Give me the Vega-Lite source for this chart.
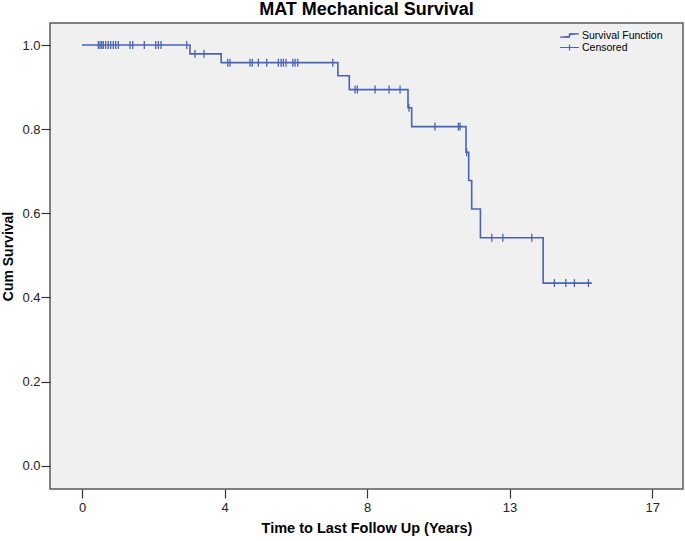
{
  "$schema": "https://vega.github.io/schema/vega-lite/v6.json",
  "width": 633,
  "height": 466,
  "autosize": {"type": "none"},
  "padding": {"left": 50, "top": 23, "right": 2, "bottom": 52},
  "background": "white",
  "title": {"text": "MAT Mechanical Survival", "font": "Liberation Sans", "fontSize": 18, "fontWeight": "bold", "color": "#000000", "offset": 4, "anchor": "middle"},
  "config": {
    "view": {"fill": "#f0f0f0", "stroke": "#5a5a5a", "strokeWidth": 1.5},
    "axis": {
      "domain": false,
      "grid": false,
      "tickSize": 9,
      "tickColor": "#333333",
      "tickWidth": 1.2,
      "labelFont": "Liberation Sans",
      "labelFontSize": 13,
      "labelColor": "#222222",
      "titleFont": "Liberation Sans",
      "titleFontSize": 14.5,
      "titleFontWeight": "bold",
      "titleColor": "#000000"
    }
  },
  "datasets": {
    "curve": [
      {"t": 0, "s": 1.0, "series": "Survival Function"},
      {"t": 3.22, "s": 0.979, "series": "Survival Function"},
      {"t": 4.15, "s": 0.958, "series": "Survival Function"},
      {"t": 7.63, "s": 0.927, "series": "Survival Function"},
      {"t": 7.97, "s": 0.894, "series": "Survival Function"},
      {"t": 9.72, "s": 0.851, "series": "Survival Function"},
      {"t": 9.83, "s": 0.806, "series": "Survival Function"},
      {"t": 11.45, "s": 0.745, "series": "Survival Function"},
      {"t": 11.53, "s": 0.678, "series": "Survival Function"},
      {"t": 11.62, "s": 0.61, "series": "Survival Function"},
      {"t": 11.88, "s": 0.542, "series": "Survival Function"},
      {"t": 13.75, "s": 0.434, "series": "Survival Function"},
      {"t": 15.2, "s": 0.434, "series": "Survival Function"}
    ],
    "censored": [
      {"t": 0.486, "s": 1.0, "series": "Censored"},
      {"t": 0.537, "s": 1.0, "series": "Censored"},
      {"t": 0.588, "s": 1.0, "series": "Censored"},
      {"t": 0.635, "s": 1.0, "series": "Censored"},
      {"t": 0.707, "s": 1.0, "series": "Censored"},
      {"t": 0.784, "s": 1.0, "series": "Censored"},
      {"t": 0.856, "s": 1.0, "series": "Censored"},
      {"t": 0.933, "s": 1.0, "series": "Censored"},
      {"t": 1.005, "s": 1.0, "series": "Censored"},
      {"t": 1.083, "s": 1.0, "series": "Censored"},
      {"t": 1.432, "s": 1.0, "series": "Censored"},
      {"t": 1.512, "s": 1.0, "series": "Censored"},
      {"t": 1.858, "s": 1.0, "series": "Censored"},
      {"t": 2.198, "s": 1.0, "series": "Censored"},
      {"t": 2.276, "s": 1.0, "series": "Censored"},
      {"t": 2.356, "s": 1.0, "series": "Censored"},
      {"t": 3.123, "s": 1.0, "series": "Censored"},
      {"t": 3.37, "s": 0.979, "series": "Censored"},
      {"t": 3.639, "s": 0.979, "series": "Censored"},
      {"t": 4.345, "s": 0.958, "series": "Censored"},
      {"t": 4.414, "s": 0.958, "series": "Censored"},
      {"t": 5.01, "s": 0.958, "series": "Censored"},
      {"t": 5.079, "s": 0.958, "series": "Censored"},
      {"t": 5.258, "s": 0.958, "series": "Censored"},
      {"t": 5.508, "s": 0.958, "series": "Censored"},
      {"t": 5.855, "s": 0.958, "series": "Censored"},
      {"t": 5.935, "s": 0.958, "series": "Censored"},
      {"t": 6.004, "s": 0.958, "series": "Censored"},
      {"t": 6.084, "s": 0.958, "series": "Censored"},
      {"t": 6.284, "s": 0.958, "series": "Censored"},
      {"t": 6.352, "s": 0.958, "series": "Censored"},
      {"t": 6.433, "s": 0.958, "series": "Censored"},
      {"t": 7.477, "s": 0.958, "series": "Censored"},
      {"t": 8.142, "s": 0.894, "series": "Censored"},
      {"t": 8.21, "s": 0.894, "series": "Censored"},
      {"t": 8.738, "s": 0.894, "series": "Censored"},
      {"t": 9.156, "s": 0.894, "series": "Censored"},
      {"t": 9.484, "s": 0.894, "series": "Censored"},
      {"t": 9.75, "s": 0.851, "series": "Censored"},
      {"t": 10.525, "s": 0.806, "series": "Censored"},
      {"t": 11.223, "s": 0.806, "series": "Censored"},
      {"t": 11.273, "s": 0.806, "series": "Censored"},
      {"t": 11.47, "s": 0.745, "series": "Censored"},
      {"t": 12.219, "s": 0.542, "series": "Censored"},
      {"t": 12.547, "s": 0.542, "series": "Censored"},
      {"t": 13.412, "s": 0.542, "series": "Censored"},
      {"t": 14.086, "s": 0.434, "series": "Censored"},
      {"t": 14.426, "s": 0.434, "series": "Censored"},
      {"t": 14.682, "s": 0.434, "series": "Censored"},
      {"t": 15.1, "s": 0.434, "series": "Censored"}
    ]
  },
  "encoding": {
    "x": {
      "field": "t",
      "type": "quantitative",
      "scale": {"domain": [-0.954, 17.92], "nice": false, "zero": false},
      "axis": {
        "title": "Time to Last Follow Up (Years)",
        "values": [0, 4.25, 8.5, 12.75, 17],
        "labelExpr": "datum.value == 8.5 ? '8' : format(datum.value, '.0f')",
        "labelPadding": 3,
        "titlePadding": 7
      }
    },
    "y": {
      "field": "s",
      "type": "quantitative",
      "scale": {"domain": [-0.0554, 1.0523], "nice": false, "zero": false},
      "axis": {
        "title": "Cum Survival",
        "titleFontSize": 14,
        "values": [0, 0.2, 0.4, 0.6, 0.8, 1.0],
        "format": ".1f",
        "labelPadding": 1,
        "titlePadding": 6
      }
    },
    "color": {
      "field": "series",
      "type": "nominal",
      "scale": {"domain": ["Survival Function", "Censored"], "range": ["#4a62b4", "#4a62b4"]},
      "legend": {
        "title": null,
        "orient": "none",
        "legendX": 513,
        "legendY": 6,
        "labelFont": "Liberation Sans",
        "labelFontSize": 10.5,
        "labelColor": "#000000",
        "symbolSize": 121,
        "rowPadding": 0,
        "labelOffset": 6,
        "padding": 0,
        "encode": {
          "symbols": {
            "update": {
              "shape": {"signal": "datum.value == 'Censored' ? 'M-1.7,0H1.7M0,-0.55V0.55' : 'M-1.7,0.3H0V-0.3H1.7'"},
              "fill": {"value": "transparent"},
              "stroke": {"value": "#4a62b4"},
              "strokeWidth": {"value": 1.2},
              "opacity": {"value": 1}
            }
          }
        }
      }
    }
  },
  "layer": [
    {
      "data": {"name": "curve"},
      "mark": {"type": "line", "interpolate": "step-after", "strokeWidth": 1.6}
    },
    {
      "data": {"name": "censored"},
      "mark": {"type": "tick", "orient": "vertical", "size": 8, "thickness": 1.3, "opacity": 1}
    }
  ]
}
